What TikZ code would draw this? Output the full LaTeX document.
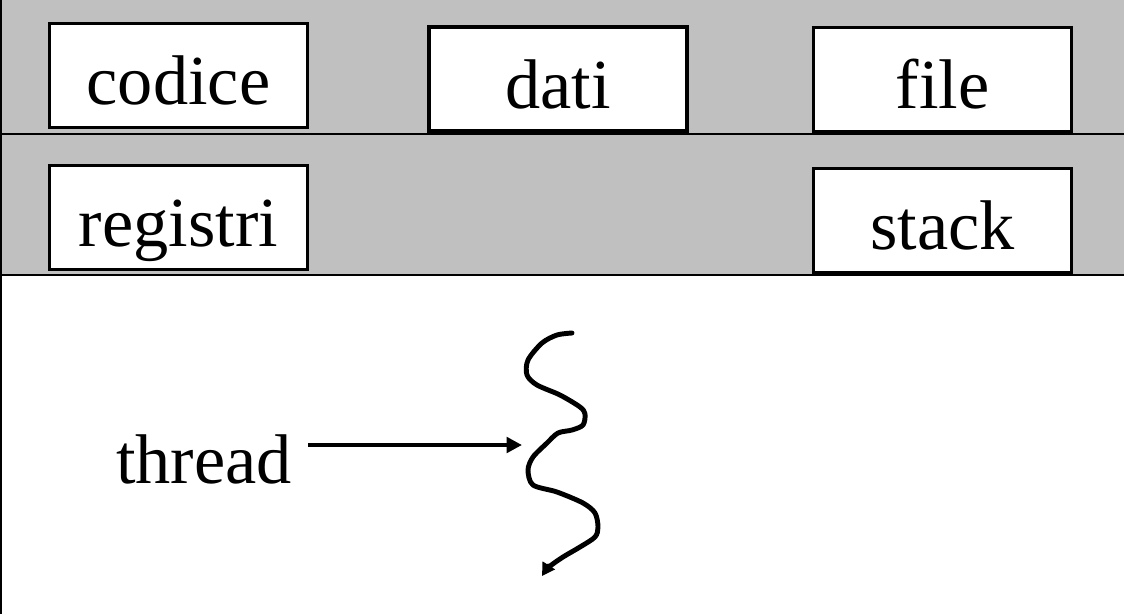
\documentclass[tikz,border=0pt]{standalone}
\usepackage{fontspec}
\setmainfont{Liberation Serif}
\usetikzlibrary{arrows.meta}
\definecolor{bandgray}{HTML}{C0C0C0}
\tikzset{
  resbox/.style={draw, fill=white, line width=2.2pt, minimum width=6.45cm,
    minimum height=2.6cm, text height=1.45cm, text depth=0cm, inner sep=0pt,
    font=\fontsize{50}{60}\selectfont},
  label/.style={font=\fontsize{50}{60}\selectfont, inner sep=0pt}
}
\begin{document}
\begin{tikzpicture}[x=0.025cm, y=-0.025cm]
  \useasboundingbox (0,0) rectangle (1124,614);
  % shared and private resources
  \fill[bandgray] (0,0) rectangle (1124,275);
  \draw[line width=1.6pt] (0,134) -- (1124,134);
  \draw[line width=1.6pt] (0,275) -- (1124,275);
  \draw[line width=1.6pt] (1,0) -- (1,614);
  \node[resbox] (codice) at (178.5,75.5) {codice};
  \node[resbox] (dati) at (558,79) {dati};
  \node[resbox] (file) at (942.5,79.5) {file};
  \node[resbox] (registri) at (178.5,217.5) {registri};
  \node[resbox] (stack) at (942.5,220.5) {stack};
  % the thread
  \node[label, anchor=base west] (thread) at (116,483) {thread};
  \coordinate (tip) at (522,445);
  \draw[line width=2.8pt, -{Triangle[length=11pt,width=11pt]}] (308,445) -- (tip);
  \draw[line width=3.5pt, line cap=round, line join=round,
        -{Triangle[length=9pt,width=10pt]}]
    plot[smooth, tension=0.5] coordinates {(572,333) (557,335) (542,343) (528,360)
      (527,375) (537,385) (560,395) (580,407) (585,414) (583,425) (572,430)
      (558,433) (547,443) (533,457) (528,470) (533,485) (557,492) (583,503)
      (595,513) (598,527) (595,537) (580,547) (563,557) (549,567) (542,576)};
\end{tikzpicture}
\end{document}
